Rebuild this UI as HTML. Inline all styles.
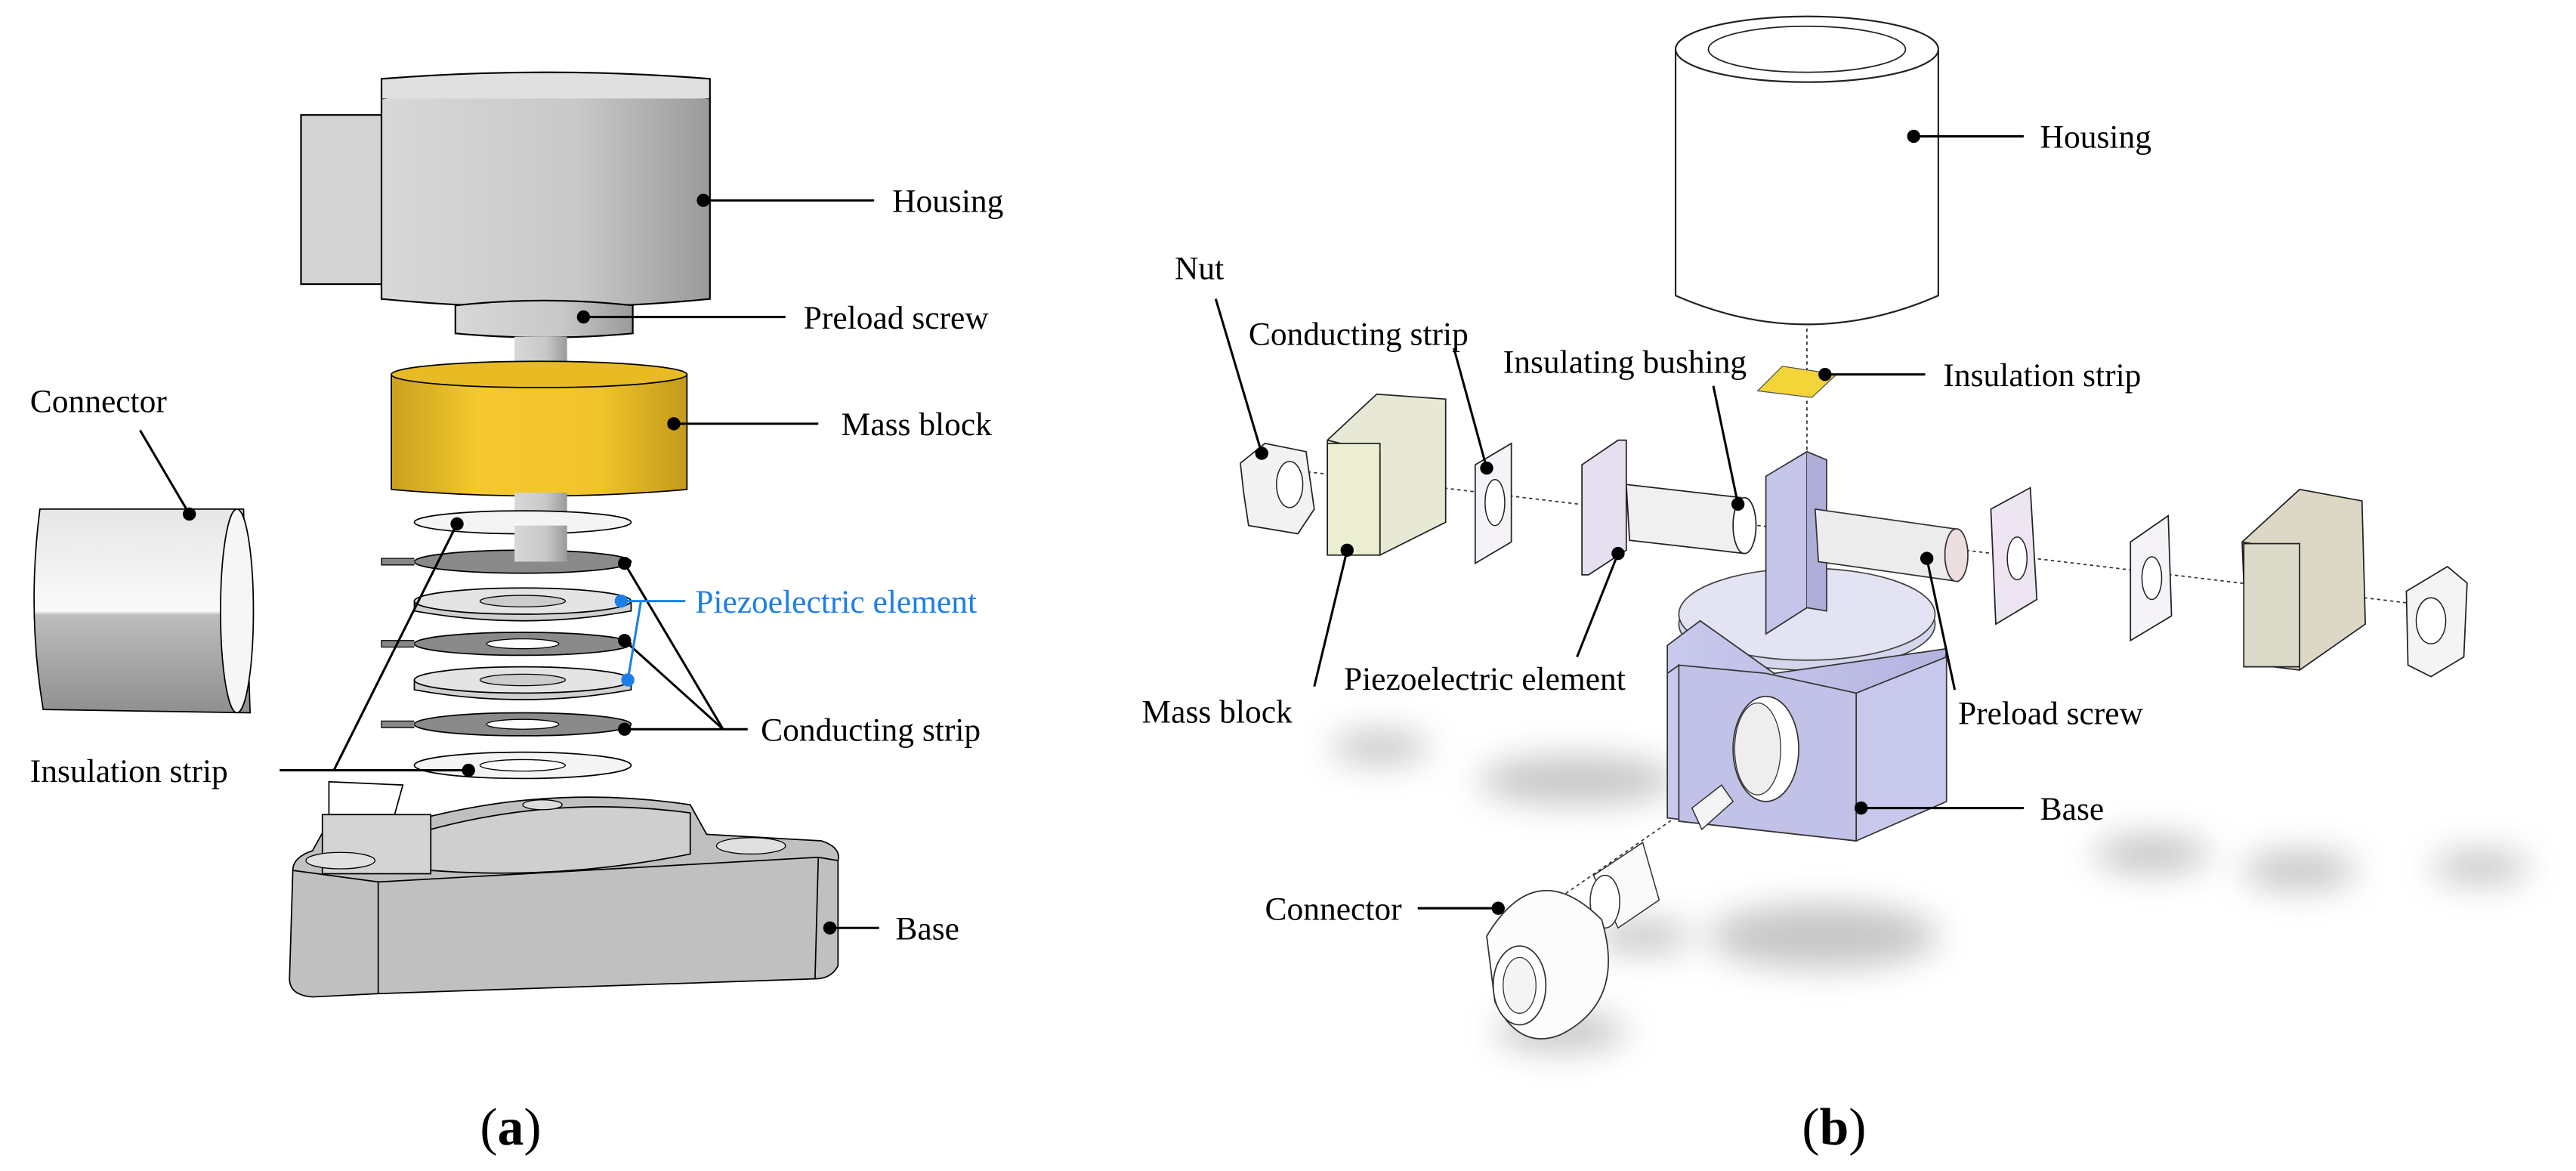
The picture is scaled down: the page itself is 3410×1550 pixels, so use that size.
<!DOCTYPE html>
<html><head><meta charset="utf-8"><style>
html,body{margin:0;padding:0;background:#fff}
svg{display:block}
text{font-family:"Liberation Serif",serif;fill:#000}
</style></head><body>
<svg width="3410" height="1550" viewBox="0 0 1568 713" xmlns="http://www.w3.org/2000/svg">
<defs>
<linearGradient id="gr" x1="0" x2="1"><stop offset="0" stop-color="#d8d8d8"/><stop offset="0.6" stop-color="#c8c8c8"/><stop offset="1" stop-color="#9a9a9a"/></linearGradient>
<linearGradient id="yl" x1="0" x2="1"><stop offset="0" stop-color="#c9a11e"/><stop offset="0.3" stop-color="#f5c92e"/><stop offset="0.7" stop-color="#f0c42a"/><stop offset="1" stop-color="#c49a1a"/></linearGradient>
<linearGradient id="cn" x1="0" y1="0" x2="0" y2="1"><stop offset="0" stop-color="#e6e6e6"/><stop offset="0.5" stop-color="#fafafa"/><stop offset="0.52" stop-color="#bdbdbd"/><stop offset="1" stop-color="#8f8f8f"/></linearGradient>
<linearGradient id="lav" x1="0" x2="1"><stop offset="0" stop-color="#c9c9ee"/><stop offset="1" stop-color="#b4b4e0"/></linearGradient>
<filter id="bl" x="-50%" y="-50%" width="200%" height="200%"><feGaussianBlur stdDeviation="10"/></filter>
</defs>

<!-- ===== Panel (a) ===== -->
<!-- Housing -->
<rect x="183" y="70" width="52" height="103" fill="#d4d4d4" stroke="#000" stroke-width="1"/>
<path d="M232 60 Q332 45 432 60 L432 182 Q332 192 232 182 Z" fill="url(#gr)" stroke="#000" stroke-width="1"/>
<path d="M232 60 L232 48 Q332 40 432 48 L432 60" fill="#e0e0e0" stroke="#000" stroke-width="1"/>
<!-- Preload screw -->
<path d="M277 186 Q331 180 385 186 L385 203 Q331 208 277 203 Z" fill="url(#gr)" stroke="#000" stroke-width="1"/>
<rect x="313" y="205" width="32" height="22" fill="url(#gr)"/>
<!-- Mass block -->
<path d="M238 228 Q328 215 418 228 L418 298 Q328 306 238 298 Z" fill="url(#yl)" stroke="#000" stroke-width="0.8"/>
<ellipse cx="328" cy="228" rx="90" ry="8" fill="#e8bb25" stroke="#000" stroke-width="0.8"/>
<rect x="313" y="300" width="32" height="40" fill="url(#gr)"/>
<!-- Rings -->
<ellipse cx="318" cy="318" rx="66" ry="7" fill="#f4f4f4" stroke="#000" stroke-width="0.8"/>
<ellipse cx="318" cy="342" rx="66" ry="7" fill="#8a8a8a" stroke="#000" stroke-width="0.8"/>
<path d="M252 340 L232 340 L232 344 L252 344" fill="#888" stroke="#000" stroke-width="0.6"/>
<rect x="313" y="320" width="32" height="22" fill="url(#gr)"/>
<path d="M252 366 Q318 352 384 366 L384 372 Q318 384 252 372 Z" fill="#d0d0d0" stroke="#000" stroke-width="0.8"/>
<ellipse cx="318" cy="366" rx="66" ry="8" fill="#e4e4e4" stroke="#000" stroke-width="0.8"/>
<ellipse cx="318" cy="366" rx="26" ry="3.5" fill="#ccc" stroke="#000" stroke-width="0.6"/>
<ellipse cx="318" cy="392" rx="66" ry="7" fill="#8a8a8a" stroke="#000" stroke-width="0.8"/>
<ellipse cx="318" cy="392" rx="22" ry="3" fill="#fff" stroke="#000" stroke-width="0.6"/>
<path d="M252 390 L232 390 L232 394 L252 394" fill="#888" stroke="#000" stroke-width="0.6"/>
<path d="M252 414 Q318 400 384 414 L384 420 Q318 432 252 420 Z" fill="#d0d0d0" stroke="#000" stroke-width="0.8"/>
<ellipse cx="318" cy="414" rx="66" ry="8" fill="#e4e4e4" stroke="#000" stroke-width="0.8"/>
<ellipse cx="318" cy="414" rx="26" ry="3.5" fill="#ccc" stroke="#000" stroke-width="0.6"/>
<ellipse cx="318" cy="441" rx="66" ry="7" fill="#8a8a8a" stroke="#000" stroke-width="0.8"/>
<ellipse cx="318" cy="441" rx="22" ry="3" fill="#fff" stroke="#000" stroke-width="0.6"/>
<path d="M252 439 L232 439 L232 443 L252 443" fill="#888" stroke="#000" stroke-width="0.6"/>
<ellipse cx="318" cy="466" rx="66" ry="8" fill="#f4f4f4" stroke="#000" stroke-width="0.8"/>
<ellipse cx="318" cy="466" rx="26" ry="3.5" fill="#fff" stroke="#000" stroke-width="0.6"/>
<!-- Connector -->
<path d="M24 310 L148 310 L152 434 L26 432 Q16 372 24 310 Z" fill="url(#cn)" stroke="#000" stroke-width="0.8"/>
<ellipse cx="144" cy="372" rx="10" ry="62" fill="#f6f6f6" stroke="#000" stroke-width="0.8"/>
<!-- Base -->
<path d="M178 530 Q178 522 190 518 L200 500 L262 497 Q340 478 420 490 L430 508 L500 512 Q512 516 510 524 L510 588 Q506 596 496 596 L230 605 L190 607 Q176 606 176 596 Z" fill="#c0c0c0" stroke="#000" stroke-width="0.8"/>
<path d="M178 530 L230 537 L498 522 L510 524 M230 537 L230 605 M498 522 L496 596" fill="none" stroke="#000" stroke-width="0.8"/>
<path d="M262 505 Q340 484 420 495 L420 520 Q340 536 262 530 Z" fill="#cfcfcf" stroke="#000" stroke-width="0.8"/>
<path d="M200 476 L245 478 L240 496 L200 496 Z" fill="#fff" stroke="#000" stroke-width="0.8"/>
<rect x="196" y="496" width="66" height="36" fill="#d4d4d4" stroke="#000" stroke-width="0.8"/>
<ellipse cx="330" cy="490" rx="12" ry="3" fill="#ddd" stroke="#000" stroke-width="0.6"/>
<ellipse cx="207" cy="524" rx="21" ry="5" fill="#e0e0e0" stroke="#000" stroke-width="0.6"/>
<ellipse cx="457" cy="515" rx="21" ry="5" fill="#e0e0e0" stroke="#000" stroke-width="0.6"/>
<!-- Leaders (a) -->
<g stroke="#000" stroke-width="1.4" fill="none">
<line x1="428" y1="122" x2="532" y2="122"/>
<line x1="355" y1="193" x2="478" y2="193"/>
<line x1="410" y1="258" x2="498" y2="258"/>
<line x1="85" y1="262" x2="115" y2="313"/>
<line x1="380" y1="343" x2="440" y2="444"/>
<line x1="380" y1="390" x2="440" y2="444"/>
<line x1="380" y1="444" x2="455" y2="444"/>
<line x1="170" y1="469" x2="285" y2="469"/>
<line x1="203" y1="469" x2="278" y2="319"/>
<line x1="505" y1="565" x2="535" y2="565"/>
</g>
<g stroke="#1a7fe8" stroke-width="1.4" fill="none">
<line x1="378" y1="366" x2="417" y2="366"/>
<line x1="390" y1="366" x2="382" y2="414"/>
</g>
<g fill="#000">
<circle cx="428" cy="122" r="4"/><circle cx="355" cy="193" r="4"/><circle cx="410" cy="258" r="4"/>
<circle cx="115" cy="313" r="4"/><circle cx="380" cy="343" r="4"/><circle cx="380" cy="390" r="4"/><circle cx="380" cy="444" r="4"/>
<circle cx="285" cy="469" r="4"/><circle cx="278" cy="319" r="4"/><circle cx="505" cy="565" r="4"/>
</g>
<circle cx="378" cy="366" r="4" fill="#1a7fe8"/><circle cx="382" cy="414" r="4" fill="#1a7fe8"/>
<g font-size="20">
<text x="543" y="129">Housing</text>
<text x="489" y="200">Preload screw</text>
<text x="512" y="265">Mass block</text>
<text x="18" y="251">Connector</text>
<text x="423" y="373" style="fill:#1a7fe8">Piezoelectric element</text>
<text x="463" y="451">Conducting strip</text>
<text x="18" y="476">Insulation strip</text>
<text x="545" y="572">Base</text>
</g>
<text x="292" y="697" font-size="32">(<tspan font-weight="bold">a</tspan>)</text>

<!-- ===== Panel (b) ===== -->
<!-- shadows -->
<g filter="url(#bl)" fill="#9a9a9a" opacity="0.55">
<ellipse cx="840" cy="455" rx="30" ry="10"/>
<ellipse cx="960" cy="475" rx="60" ry="15"/>
<ellipse cx="1110" cy="570" rx="70" ry="20"/>
<ellipse cx="1000" cy="570" rx="30" ry="10"/>
<ellipse cx="950" cy="628" rx="40" ry="12"/>
<ellipse cx="1310" cy="520" rx="35" ry="12"/>
<ellipse cx="1400" cy="530" rx="35" ry="12"/>
<ellipse cx="1510" cy="528" rx="30" ry="10"/>
</g>
<!-- axes -->
<g stroke="#333" stroke-width="0.8" stroke-dasharray="2,2" fill="none">
<line x1="1100" y1="200" x2="1100" y2="300"/>
<line x1="760" y1="283" x2="1490" y2="370"/>
<line x1="1060" y1="470" x2="930" y2="560"/>
</g>
<!-- Housing b -->
<path d="M1020 30 L1020 180 Q1100 215 1180 180 L1180 30" fill="#fff" stroke="#222" stroke-width="1"/>
<ellipse cx="1100" cy="30" rx="80" ry="20" fill="#fff" stroke="#222" stroke-width="1"/>
<ellipse cx="1100" cy="30" rx="60" ry="14" fill="#fff" stroke="#222" stroke-width="0.8"/>
<!-- insulation strip -->
<path d="M1070 238 L1085 223 L1118 228 L1103 242 Z" fill="#f3d53a" stroke="#555" stroke-width="0.6"/>
<!-- nut -->
<path d="M755 282 L770 270 L795 275 L800 310 L790 325 L760 320 L757 300 Z" fill="#f2f2f2" stroke="#222" stroke-width="0.8"/>
<ellipse cx="785" cy="295" rx="8" ry="14" fill="#fff" stroke="#222" stroke-width="0.7"/>
<!-- mass block left -->
<path d="M808 268 L838 240 L880 243 L880 318 L840 338 L808 336 Z" fill="#e8e8d6" stroke="#222" stroke-width="0.8"/>
<path d="M808 268 L840 276 L840 338" fill="none" stroke="#222" stroke-width="0.8"/>
<rect x="808" y="270" width="32" height="68" fill="#ebeed0" stroke="#222" stroke-width="0.8"/>
<!-- conducting strip left -->
<path d="M898 283 L920 270 L920 330 L898 343 Z" fill="#f6f3f8" stroke="#222" stroke-width="0.8"/>
<ellipse cx="910" cy="306" rx="6" ry="14" fill="#fff" stroke="#222" stroke-width="0.7"/>
<!-- piezo left -->
<path d="M963 283 L985 268 L990 268 L990 335 L967 350 L963 350 Z" fill="#e6dff0" stroke="#222" stroke-width="0.8"/>
<!-- bushing -->
<path d="M990 295 L1060 303 L1062 337 L992 329 Z" fill="#f0f0f0" stroke="#222" stroke-width="0.8"/>
<ellipse cx="1062" cy="320" rx="7" ry="17" fill="#fff" stroke="#222" stroke-width="0.8"/>
<!-- base cylinder top -->
<ellipse cx="1100" cy="380" rx="78" ry="28" fill="#d5d5ec" stroke="#444" stroke-width="0.8"/>
<ellipse cx="1100" cy="374" rx="78" ry="28" fill="#e3e3f3" stroke="#444" stroke-width="0.8"/>
<!-- post -->
<path d="M1075 290 L1100 275 L1100 370 L1075 386 Z" fill="#c5c5ea" stroke="#333" stroke-width="0.8"/>
<path d="M1100 275 L1112 280 L1112 372 L1100 370" fill="#aeaed8" stroke="#333" stroke-width="0.8"/>
<!-- preload screw -->
<path d="M1105 310 L1190 322 L1192 354 L1107 342 Z" fill="#ececec" stroke="#333" stroke-width="0.8"/>
<ellipse cx="1191" cy="338" rx="7" ry="16" fill="#ecdede" stroke="#333" stroke-width="0.8"/>
<!-- right parts -->
<path d="M1212 310 L1236 297 L1240 365 L1215 380 Z" fill="#ede6f2" stroke="#222" stroke-width="0.8"/>
<ellipse cx="1228" cy="340" rx="6" ry="13" fill="#fff" stroke="#222" stroke-width="0.7"/>
<path d="M1297 330 L1320 314 L1322 375 L1297 390 Z" fill="#f6f3f8" stroke="#222" stroke-width="0.8"/>
<ellipse cx="1310" cy="352" rx="6" ry="13" fill="#fff" stroke="#222" stroke-width="0.7"/>
<path d="M1365 330 L1400 298 L1438 305 L1440 380 L1400 408 L1368 404 Z" fill="#ddd8c6" stroke="#222" stroke-width="0.8"/>
<path d="M1365 330 L1400 336 L1400 408" fill="none" stroke="#222" stroke-width="0.8"/>
<rect x="1366" y="331" width="34" height="75" fill="#dcdac8" stroke="#222" stroke-width="0.8"/>
<path d="M1465 360 L1490 345 L1502 355 L1500 400 L1480 412 L1466 405 Z" fill="#f4f4f4" stroke="#222" stroke-width="0.8"/>
<ellipse cx="1480" cy="378" rx="9" ry="14" fill="#fff" stroke="#222" stroke-width="0.7"/>
<!-- base hex -->
<path d="M1015 393 L1035 378 L1080 410 L1185 395 L1175 488 L1130 512 L1015 498 Z" fill="url(#lav)" stroke="#333" stroke-width="0.8"/>
<path d="M1015 410 L1022 405 L1022 500 M1080 410 L1080 505 L1130 512 M1130 422 L1130 512" fill="none" stroke="#333" stroke-width="0.8"/>
<path d="M1022 405 L1130 422 L1185 400 L1185 488 L1130 512 L1022 500 Z" fill="#c8c8ec" stroke="#333" stroke-width="0.8"/>
<path d="M1022 405 L1075 410 L1130 422 L1130 512 L1022 500 Z" fill="#c2c2e8" stroke="#333" stroke-width="0.8"/>
<ellipse cx="1075" cy="456" rx="20" ry="32" fill="#fff" stroke="#333" stroke-width="0.8"/>
<ellipse cx="1070" cy="456" rx="14" ry="28" fill="#eee" stroke="#333" stroke-width="0.6"/>
<!-- connector pieces -->
<path d="M1030 492 L1048 478 L1055 488 L1036 505 Z" fill="#f4f4f4" stroke="#333" stroke-width="0.7"/>
<path d="M970 533 L1000 513 L1010 548 L985 565 Z" fill="#fafafa" stroke="#333" stroke-width="0.7"/>
<ellipse cx="977" cy="549" rx="9" ry="16" fill="#fff" stroke="#333" stroke-width="0.7"/>
<path d="M905 570 Q935 520 975 560 Q990 610 950 630 Q925 640 910 610 Z" fill="#fcfcfc" stroke="#333" stroke-width="0.8"/>
<ellipse cx="925" cy="600" rx="16" ry="24" fill="#fff" stroke="#333" stroke-width="0.8"/>
<ellipse cx="925" cy="600" rx="10" ry="17" fill="#f4f4f4" stroke="#333" stroke-width="0.6"/>
<!-- Leaders (b) -->
<g stroke="#000" stroke-width="1.4" fill="none">
<line x1="1165" y1="83" x2="1232" y2="83"/>
<line x1="1111" y1="228" x2="1172" y2="228"/>
<line x1="740" y1="182" x2="768" y2="276"/>
<line x1="885" y1="212" x2="905" y2="285"/>
<line x1="800" y1="418" x2="820" y2="335"/>
<line x1="1043" y1="235" x2="1058" y2="307"/>
<line x1="960" y1="400" x2="985" y2="337"/>
<line x1="1190" y1="420" x2="1173" y2="340"/>
<line x1="1133" y1="492" x2="1232" y2="492"/>
<line x1="863" y1="553" x2="912" y2="553"/>
</g>
<g fill="#000">
<circle cx="1165" cy="83" r="4"/><circle cx="1111" cy="228" r="4"/><circle cx="768" cy="276" r="4"/>
<circle cx="905" cy="285" r="4"/><circle cx="820" cy="335" r="4"/><circle cx="1058" cy="307" r="4"/>
<circle cx="985" cy="337" r="4"/><circle cx="1173" cy="340" r="4"/><circle cx="1133" cy="492" r="4"/><circle cx="912" cy="553" r="4"/>
</g>
<g font-size="20">
<text x="1242" y="90">Housing</text>
<text x="1183" y="235">Insulation strip</text>
<text x="715" y="170">Nut</text>
<text x="760" y="210">Conducting strip</text>
<text x="915" y="227">Insulating bushing</text>
<text x="695" y="440">Mass block</text>
<text x="818" y="420">Piezoelectric element</text>
<text x="1192" y="441">Preload screw</text>
<text x="1242" y="499">Base</text>
<text x="770" y="560">Connector</text>
</g>
<text x="1097" y="697" font-size="32">(<tspan font-weight="bold">b</tspan>)</text>
</svg>
</body></html>
